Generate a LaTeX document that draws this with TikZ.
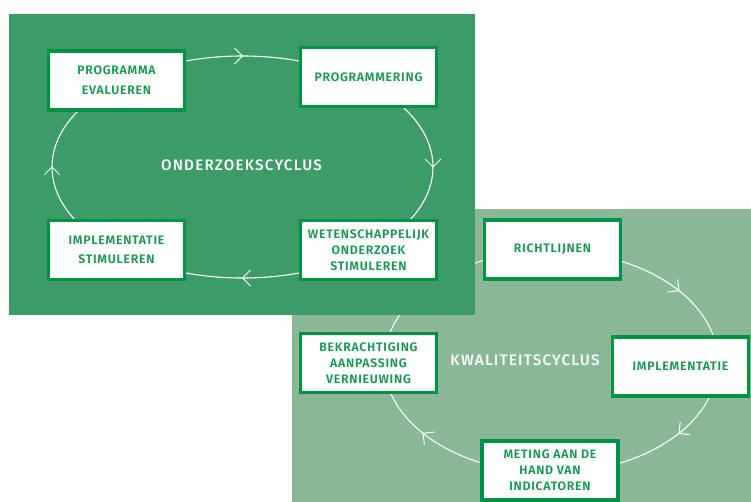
\documentclass[tikz,border=0pt]{standalone}
\usepackage{fontspec}
\setmainfont{Fira Sans}[BoldFont={Fira Sans SemiBold}]
\newfontfamily\boxfont{Fira Sans SemiBold}[LetterSpace=6]
\newfontfamily\titlefont{Fira Sans Medium}[LetterSpace=8]
\definecolor{darkbg}{RGB}{61,155,104}
\definecolor{lightbg}{RGB}{138,183,149}
\definecolor{boxborder}{RGB}{0,146,69}
\definecolor{boxtext}{RGB}{22,150,80}
\tikzset{
  cbox/.style={draw=boxborder, line width=3.4pt, fill=white, minimum width=136pt, minimum height=59pt,
    align=center, inner sep=2pt, text=boxtext, font=\boxfont\fontsize{12.3}{16}\selectfont},
  cycleline/.style={draw=white, line width=1.1pt},
  chev/.style={draw=white, line width=1pt},
  title/.style={text=white, font=\titlefont\fontsize{15.2}{17}\selectfont}
}
\begin{document}
\begin{tikzpicture}[x=1pt,y=-1pt]
\useasboundingbox (0,0) rectangle (751,502);
\fill[white] (0,0) rectangle (751,502);
% light panel
\fill[lightbg] (292,209) rectangle (751,502);
\draw[cycleline] (551,362) ellipse [x radius=167, y radius=111];
\foreach \t in {-40,40,140,220} {
  \pgfmathsetmacro\px{551+167*cos(\t)}
  \pgfmathsetmacro\py{362+111*sin(\t)}
  \pgfmathsetmacro\ang{atan2(-111*cos(\t),-167*sin(\t))}
  \draw[chev, shift={(\px,\py)}, rotate=\ang] (-8,8) -- (0,0) -- (-8,-8);
}
\node[cbox] (ri) at (552.5,249.5) {RICHTLIJNEN};
\node[cbox] (im) at (680.5,366.5) {IMPLEMENTATIE};
\node[cbox] (me) at (550,470.5) {METING AAN DE\\HAND VAN\\INDICATOREN};
\node[cbox] (ba) at (368.5,363) {BEKRACHTIGING\\AANPASSING\\VERNIEUWING};
% dark panel
\fill[darkbg] (9,14) rectangle (475,315);
\draw[cycleline] (242.5,167) ellipse [x radius=190.5, y radius=111];
\foreach \t in {-90,0,90,180} {
  \pgfmathsetmacro\px{242.5+190.5*cos(\t)}
  \pgfmathsetmacro\py{167+111*sin(\t)}
  \pgfmathsetmacro\ang{atan2(-111*cos(\t),-190.5*sin(\t))}
  \draw[chev, shift={(\px,\py)}, rotate=\ang] (-8,8) -- (0,0) -- (-8,-8);
}
\node[cbox, font=\boxfont\fontsize{12.3}{20}\selectfont] (pe) at (116.5,80.5) {PROGRAMMA\\EVALUEREN};
\node[cbox] (pr) at (368.5,77) {PROGRAMMERING};
\node[cbox, font=\boxfont\fontsize{12.3}{19}\selectfont] (is) at (116.5,250) {IMPLEMENTATIE\\STIMULEREN};
\node[cbox] (wo) at (368.5,250) {WETENSCHAPPELIJK\\ONDERZOEK\\STIMULEREN};
\node[title] (ot) at (241.5,165) {ONDERZOEKSCYCLUS};
\node[title] (kt) at (525,360) {KWALITEITSCYCLUS};
\end{tikzpicture}
\end{document}
